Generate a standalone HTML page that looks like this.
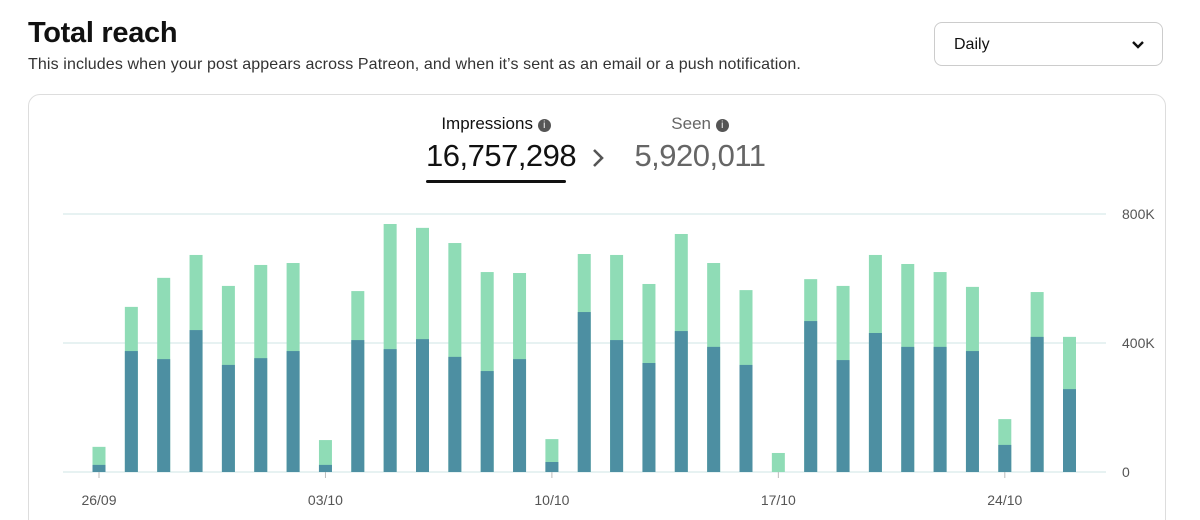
<!DOCTYPE html>
<html style="overflow:hidden;height:520px"><head><meta charset="utf-8"><style>
body{margin:0;width:1200px;height:520px;background:#fff;font-family:"Liberation Sans",sans-serif;overflow:hidden;position:relative;color:#111}
.t{position:absolute;left:28px;top:17px;font-size:29px;font-weight:bold;letter-spacing:-0.3px}
.s{position:absolute;left:28px;top:56px;font-size:16px;color:#333;letter-spacing:0.12px}
.dd{position:absolute;left:934px;top:22px;width:229px;height:44px;border:1px solid #ccc;border-radius:8px;box-sizing:border-box}
.dd span{position:absolute;left:19px;top:13px;font-size:16px}
.card{position:absolute;left:28px;top:94px;width:1138px;height:440px;border:1px solid #ddd;border-radius:12px;box-sizing:border-box}
</style></head><body>
<div class="t">Total reach</div>
<div class="s">This includes when your post appears across Patreon, and when it’s sent as an email or a push notification.</div>
<div class="dd"><span>Daily</span>
<svg style="position:absolute;left:197px;top:17px" width="12" height="10"><path d="M1 2 L6 7 L11 2" stroke="#111" stroke-width="2.4" fill="none"/></svg></div>
<div class="card"></div>
<div style="position:absolute;left:426px;top:114px;width:140px;text-align:center">
<div style="font-size:17px;font-weight:500">Impressions <span style="display:inline-block;width:13px;height:13px;border-radius:50%;background:#555;color:#fff;font-size:10px;line-height:13px;vertical-align:1px">i</span></div>
<div style="font-size:31px;margin-top:4px;letter-spacing:-0.5px">16,757,298</div>
<div style="height:3px;background:#111;margin-top:6px;border-radius:2px"></div></div>
<svg style="position:absolute;left:591px;top:148px" width="14" height="20"><path d="M3 2 L11 10 L3 18" stroke="#555" stroke-width="2.6" fill="none"/></svg>
<div style="position:absolute;left:630px;top:114px;width:140px;text-align:center;color:#666">
<div style="font-size:17px;font-weight:500">Seen <span style="display:inline-block;width:13px;height:13px;border-radius:50%;background:#555;color:#fff;font-size:10px;line-height:13px;vertical-align:1px">i</span></div>
<div style="font-size:31px;margin-top:4px;letter-spacing:-0.5px">5,920,011</div></div>
<svg id="ch" style="position:absolute;left:0;top:0" width="1200" height="520"></svg>
<script>
const totals=[78,512,602,673,577,642,648,99,561,769,757,710,620,617,102,676,673,583,738,648,564,59,598,577,673,645,620,574,164,558,419];
const seen=[22,375,350,440,332,353,375,22,409,381,412,357,313,350,31,496,409,338,437,388,332,0,468,347,431,388,388,375,84,419,257];
const yTicks=[0,400,800];
const yTickLabels=["0","400K","800K"];
const xLabels=["26/09","03/10","10/10","17/10","24/10"];
const xLabelIdx=[0,7,14,21,28];
const svg=document.getElementById('ch');const NS='http://www.w3.org/2000/svg';
const y=v=>472-v*0.3225, x=i=>99+i*32.35;
function mk(t,a){const e=document.createElementNS(NS,t);for(const k in a)e.setAttribute(k,a[k]);svg.appendChild(e);return e;}
yTicks.forEach((v,i)=>{
const l=mk('line',{x1:63,x2:1106,y1:y(v),y2:y(v),stroke:'#cfe6e6','stroke-width':1});


const t=mk('text',{x:1122,y:y(v)+5,'font-size':14,fill:'#555'});t.textContent=yTickLabels[i];


});
totals.forEach((v,i)=>{
const b=mk('rect',{x:x(i)-6.5,y:y(v),width:13,height:y(0)-y(v),fill:'#8fdcb6'});


const d=mk('rect',{x:x(i)-6.5,y:y(seen[i]),width:13,height:y(0)-y(seen[i]),fill:'#4d8fa2'});


});
xLabels.forEach((s,k)=>{const i=xLabelIdx[k];
mk('line',{x1:x(i),x2:x(i),y1:472,y2:478,stroke:'#bbb'});
const t=mk('text',{x:x(i),y:505,'font-size':14,fill:'#555','text-anchor':'middle'});t.textContent=s;


});
</script>
</body></html>
